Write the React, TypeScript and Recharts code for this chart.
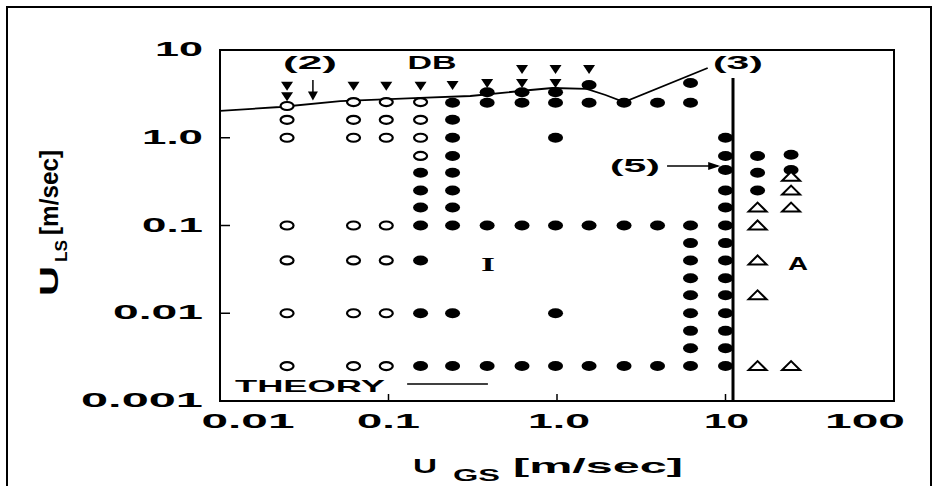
import { ReferenceArea, ReferenceDot, ReferenceLine, Scatter, ScatterChart, XAxis, YAxis } from "recharts";

// axis ticks
const xTicks = [0.01, 0.1, 1, 10, 100];
const xTickLabels = ["0.01", "0.1", "1.0", "10", "100"];
const yTicks = [0.001, 0.01, 0.1, 1, 10];
const yTickLabels = ["0.001", "0.01", "0.1", "1.0", "10"];

// columns of observations: [U_GS, list of U_LS]
const openCircleCols: [number, number[]][] = [
  [0.025, [2.3, 1.6, 1.0, 0.1, 0.04, 0.01, 0.0025]],
  [0.062, [2.55, 1.6, 1.0, 0.1, 0.04, 0.01, 0.0025]],
  [0.097, [2.55, 1.6, 1.0, 0.1, 0.04, 0.01, 0.0025]],
  [0.155, [2.55, 1.6, 1.0, 0.62]],
];
const filledCircleCols: [number, number[]][] = [
  [0.155, [0.4, 0.25, 0.16, 0.1, 0.04, 0.01, 0.0025]],
  [0.24, [2.5, 1.6, 1.0, 0.62, 0.4, 0.25, 0.16, 0.1, 0.01, 0.0025]],
  [0.385, [3.3, 2.5, 0.1, 0.0025]],
  [0.62, [3.3, 2.5, 0.1, 0.0025]],
  [0.98, [3.3, 2.5, 1.0, 0.1, 0.01, 0.0025]],
  [1.55, [4.0, 2.5, 0.1, 0.0025]],
  [2.5, [2.5, 0.1, 0.0025]],
  [3.95, [2.5, 0.1, 0.0025]],
  [6.2, [4.2, 2.5, 0.1, 0.063, 0.04, 0.025, 0.016, 0.01, 0.0063, 0.004, 0.0025]],
  [10, [1.0, 0.62, 0.43, 0.25, 0.16, 0.1, 0.063, 0.04, 0.025, 0.016, 0.01, 0.0063, 0.004, 0.0025]],
  [15.5, [0.62, 0.4, 0.25]],
  [24.5, [0.64, 0.43]],
];
const openTriangleCols: [number, number[]][] = [
  [15.5, [0.16, 0.1, 0.04, 0.016, 0.0025]],
  [24.5, [0.36, 0.25, 0.16, 0.0025]],
];
const downTriangleCols: [number, number[]][] = [
  [0.025, [3.8, 2.9]],
  [0.062, [3.8]],
  [0.097, [3.8]],
  [0.155, [3.8]],
  [0.24, [3.9]],
  [0.385, [4.1]],
  [0.62, [5.9, 4.1]],
  [0.98, [5.9, 4.1]],
  [1.55, [5.9]],
];

// theory transition curve
const theoryX = [0.01, 0.0227, 0.0517, 0.154, 0.306, 0.696, 0.94, 1.5, 1.94, 2.5, 7.84];
const theoryY = [2.02, 2.24, 2.62, 2.84, 2.99, 3.5, 3.69, 3.6, 3.07, 2.55, 6.23];

const flat = (cols: [number, number[]][]) => cols.flatMap(([x, ys]) => ys.map((y) => ({ x, y })));
const theory = theoryX.map((x, i) => ({ x, y: theoryY[i] }));

const FONT = "'Liberation Sans', Arial, sans-serif";
const X_LABEL: Record<string, { dx: number; w: number }> = {
  "0.01": { dx: 28, w: 93 },
  "0.1": { dx: 0, w: 63 },
  "1.0": { dx: 2, w: 62 },
  "10": { dx: 1, w: 45 },
  "100": { dx: -29, w: 80 },
};
const Y_LABEL_W: Record<string, number> = { "0.001": 122, "0.01": 90, "0.1": 61, "1.0": 61, "10": 48 };

function XTick(props: any) {
  const { x, y, payload } = props;
  const i = xTicks.indexOf(payload.value);
  const label = xTickLabels[i];
  const st = X_LABEL[label];
  const inner = i > 0 && i < xTicks.length - 1;
  return (
    <g>
      {inner && <line x1={x} x2={x} y1={y} y2={y - 7} stroke="#000" strokeWidth={1.5} />}
      <text x={x + st.dx} y={y + 27} textAnchor="middle" fontFamily={FONT} fontWeight={700} fontSize={21}
        textLength={st.w} lengthAdjust="spacingAndGlyphs" fill="#000">{label}</text>
    </g>
  );
}

function YTick(props: any) {
  const { x, y, payload } = props;
  const i = yTicks.indexOf(payload.value);
  const label = yTickLabels[i];
  const inner = i > 0 && i < yTicks.length - 1;
  return (
    <g>
      {inner && <line x1={x} x2={x + 10} y1={y} y2={y} stroke="#000" strokeWidth={1.5} />}
      <text x={x - 17} y={y + 6} textAnchor="end" fontFamily={FONT} fontWeight={700} fontSize={21}
        textLength={Y_LABEL_W[label]} lengthAdjust="spacingAndGlyphs" fill="#000">{label}</text>
    </g>
  );
}

const filledDot = (p: any) => <ellipse cx={p.cx} cy={p.cy} rx={7.5} ry={5} fill="#000" />;
const openDot = (p: any) => <ellipse cx={p.cx} cy={p.cy} rx={6.5} ry={4} fill="#fff" stroke="#000" strokeWidth={2.2} />;
const downTri = (p: any) => (
  <polygon points={`${p.cx - 6},${p.cy - 5} ${p.cx + 6},${p.cy - 5} ${p.cx},${p.cy + 4}`} fill="#000" />
);
const openTri = (p: any) => (
  <polygon points={`${p.cx - 9},${p.cy + 4} ${p.cx + 9},${p.cy + 4} ${p.cx},${p.cy - 5}`} fill="#fff" stroke="#000" strokeWidth={2} />
);

const tag = (text: string, w: number, fs = 18, family = FONT) => (p: any) => (
  <text x={p.cx} y={p.cy} textAnchor="middle" dominantBaseline="central" fontFamily={family} fontWeight={700}
    fontSize={fs} textLength={w} lengthAdjust="spacingAndGlyphs" fill="#000">{text}</text>
);

function XTitle(props: any) {
  const { viewBox } = props;
  const y = viewBox.y + viewBox.height + 42;
  return (
    <g fontFamily={FONT} fontWeight={700} fill="#000">
      <text x={413} y={y} fontSize={21} textLength={24} lengthAdjust="spacingAndGlyphs">U</text>
      <text x={453} y={y + 8} fontSize={17} textLength={47} lengthAdjust="spacingAndGlyphs">GS</text>
      <text x={513} y={y} fontSize={21} textLength={170} lengthAdjust="spacingAndGlyphs">[m/sec]</text>
    </g>
  );
}

function YTitle() {
  return (
    <g transform="translate(58,0) rotate(-90)" fontFamily={FONT} fontWeight={700} fill="#000">
      <text x={-296} y={0} fontSize={25} textLength={30} lengthAdjust="spacingAndGlyphs">U</text>
      <text x={-262} y={9} fontSize={17} textLength={22} lengthAdjust="spacingAndGlyphs">LS</text>
      <text x={-235} y={0} fontSize={25} textLength={85} lengthAdjust="spacingAndGlyphs">[m/sec]</text>
    </g>
  );
}

export default function App() {
  return (
    <div style={{ position: "absolute", left: 0, top: 0, width: 937, height: 486, background: "#fff" }}>
      <div style={{ position: "absolute", left: 6, top: 6, width: 922, height: 490, border: "2px solid #000", borderBottom: "none" }} />
      <ScatterChart width={937} height={486} margin={{ top: 50, right: 43, bottom: 55, left: 160 }}>
        <XAxis type="number" dataKey="x" scale="log" domain={[0.01, 100]} ticks={xTicks} allowDataOverflow
          tickSize={0} tickMargin={0} tickLine={false} tick={<XTick />} axisLine={{ stroke: "#000", strokeWidth: 2 }}
          height={30} label={<XTitle />} />
        <YAxis type="number" dataKey="y" scale="log" domain={[0.001, 10]} ticks={yTicks} allowDataOverflow
          tickSize={0} tickMargin={0} tickLine={false} tick={<YTick />} axisLine={{ stroke: "#000", strokeWidth: 2 }}
          width={60} label={<YTitle />} />
        <ReferenceArea x1={0.01} x2={100} y1={0.001} y2={10} fill="none" stroke="#000" strokeWidth={2} ifOverflow="visible" />
        <ReferenceLine segment={[{ x: 11.08, y: 0.001 }, { x: 11.08, y: 4.8 }]} stroke="#000" strokeWidth={3} ifOverflow="visible" />
        <ReferenceLine segment={[{ x: 4.5, y: 0.476 }, { x: 9.0, y: 0.476 }]} stroke="#000" strokeWidth={1.5} ifOverflow="visible" />
        <ReferenceLine segment={[{ x: 0.0356, y: 4.55 }, { x: 0.0356, y: 3.1 }]} stroke="#000" strokeWidth={1.5} ifOverflow="visible" />
        <ReferenceLine segment={[{ x: 0.129, y: 0.00156 }, { x: 0.389, y: 0.00156 }]} stroke="#000" strokeWidth={1.5} ifOverflow="visible" />
        <Scatter data={theory} line={{ stroke: "#000", strokeWidth: 1.8 }} shape={() => <g />} isAnimationActive={false} />
        <Scatter data={flat(openCircleCols)} shape={openDot} isAnimationActive={false} />
        <Scatter data={flat(filledCircleCols)} shape={filledDot} isAnimationActive={false} />
        <Scatter data={flat(openTriangleCols)} shape={openTri} isAnimationActive={false} />
        <Scatter data={flat(downTriangleCols)} shape={downTri} isAnimationActive={false} />
        <ReferenceDot x={0.0356} y={2.95} r={0} ifOverflow="visible"
          shape={(p: any) => <polygon points={`${p.cx - 5},${p.cy - 5} ${p.cx + 5},${p.cy - 5} ${p.cx},${p.cy + 4}`} fill="#000" />} />
        <ReferenceDot x={9.3} y={0.476} r={0} ifOverflow="visible"
          shape={(p: any) => <polygon points={`${p.cx - 12},${p.cy - 4} ${p.cx - 12},${p.cy + 4} ${p.cx},${p.cy}`} fill="#000" />} />
        <ReferenceDot x={0.0342} y={7.02} r={0} ifOverflow="visible" shape={tag("(2)", 54)} />
        <ReferenceDot x={0.181} y={7.02} r={0} ifOverflow="visible" shape={tag("DB", 49)} />
        <ReferenceDot x={11.86} y={7.02} r={0} ifOverflow="visible" shape={tag("(3)", 50)} />
        <ReferenceDot x={2.9} y={0.476} r={0} ifOverflow="visible" shape={tag("(5)", 50)} />
        <ReferenceDot x={0.389} y={0.036} r={0} ifOverflow="visible" shape={tag("I", 14, 19, "'Liberation Serif', serif")} />
        <ReferenceDot x={26.9} y={0.0368} r={0} ifOverflow="visible" shape={tag("A", 20, 18)} />
        <ReferenceDot x={0.0342} y={0.00148} r={0} ifOverflow="visible" shape={tag("THEORY", 150, 17)} />
      </ScatterChart>
    </div>
  );
}
